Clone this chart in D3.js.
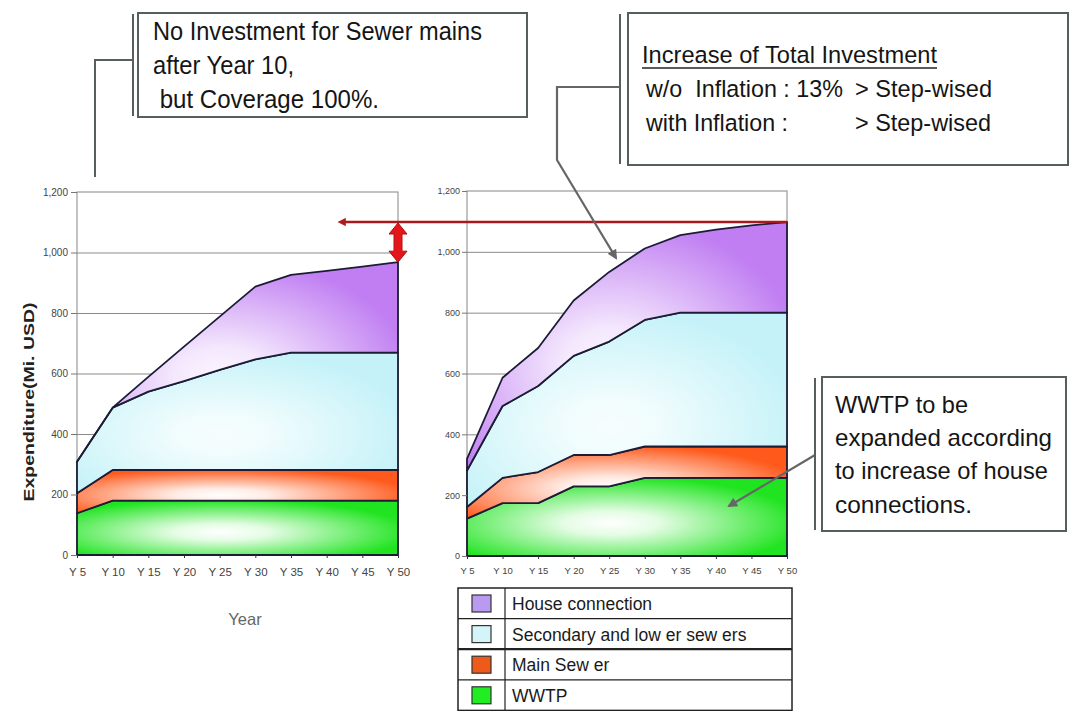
<!DOCTYPE html>
<html>
<head>
<meta charset="utf-8">
<script src="https://cdn.jsdelivr.net/npm/d3@7"></script>
<style>
  html, body { margin: 0; padding: 0; background: #ffffff; }
  svg { display: block; }
  text { font-family: "Liberation Sans", Arial, sans-serif; }
  .narrow { font-family: "Liberation Sans Narrow", "Arial Narrow", "Liberation Sans", Arial, sans-serif; }
</style>
</head>
<body>
<svg id="chart" width="1070" height="711"></svg>
<script>
// ---------------- DATA ----------------
const categories = ["Y 5", "Y 10", "Y 15", "Y 20", "Y 25", "Y 30", "Y 35", "Y 40", "Y 45", "Y 50"];
const seriesKeys = ["WWTP", "Main Sewer", "Secondary and lower sewers", "House connection"];

// Left chart (w/o inflation), Mi. USD per component (stacked)
const leftWWTP      = [138, 180, 180, 180, 180, 180, 180, 180, 180, 180];
const leftMain      = [66, 101, 101, 101, 101, 101, 101, 101, 101, 101];
const leftSecondary = [104, 206, 259, 294, 331, 366, 388, 388, 388, 388];
const leftHouse     = [0, 0, 49, 114, 176, 240, 257, 270, 284, 299];

// Right chart (with inflation), Mi. USD per component (stacked)
const rightWWTP      = [123, 174, 174, 229, 229, 257, 257, 257, 257, 257];
const rightMain      = [38, 83, 102, 103, 103, 103, 103, 103, 103, 103];
const rightSecondary = [120, 236, 283, 326, 373, 416, 440, 440, 440, 440];
const rightHouse     = [38, 93, 125, 182, 229, 235, 255, 273, 287, 298];

const yTicks = [0, 200, 400, 600, 800, 1000, 1200];
const legendLabels = ["House connection", "Secondary and low er sew ers", "Main Sew er", "WWTP"];
const yAxisTitle = "Expenditure(Mi. USD)";
const xAxisTitle = "Year";

const note1Lines = ["No Investment for Sewer mains", "after Year 10,", " but Coverage 100%."];
const note2Title = "Increase of Total Investment";
const note2Left = ["w/o  Inflation : 13%", "with Inflation :"];
const note2Right = ["> Step-wised", "> Step-wised"];
const note3Lines = ["WWTP to be", "expanded according", "to increase of house", "connections."];

// ---------------- STYLE ----------------
const fillColors = ["#1fe41f", "#ff5a1c", "#c4f2f8", "#c07ef2"];
const centerColors = ["#ffffff", "#ffffff", "#f6fdfe", "#fbf6fe"];
const legendColors = ["#b89af0", "#d3f4f8", "#ee5a1a", "#22ec22"];
const outline = "#1c1c36";
const boxStroke = "#56605a";

const svg = d3.select("#chart");
const defs = svg.append("defs");

function rowsFrom(a, b, c, d) {
  return categories.map((cat, i) => ({
    cat: cat,
    [seriesKeys[0]]: a[i],
    [seriesKeys[1]]: b[i],
    [seriesKeys[2]]: c[i],
    [seriesKeys[3]]: d[i]
  }));
}

function makeGradients(prefix) {
  fillColors.forEach((col, i) => {
    const g = defs.append("radialGradient")
      .attr("id", prefix + i)
      .attr("cx", 0.45).attr("cy", 0.58).attr("r", 0.6);
    g.append("stop").attr("offset", "0%").attr("stop-color", centerColors[i]);
    g.append("stop").attr("offset", "25%").attr("stop-color", d3.interpolateRgb(centerColors[i], col)(0.12));
    g.append("stop").attr("offset", "100%").attr("stop-color", col);
  });
}

function drawChart(prefix, rows, x0, x1, y0, y1, opt) {
  makeGradients(prefix);
  const x = d3.scalePoint().domain(categories).range([x0, x1]);
  const y = d3.scaleLinear().domain([0, 1200]).range([y0, y1]);
  const g = svg.append("g");

  // frame
  g.append("rect")
    .attr("x", x0).attr("y", y1).attr("width", x1 - x0).attr("height", y0 - y1)
    .attr("fill", "none").attr("stroke", "#9a9a9a").attr("stroke-width", 1.2);

  // gridlines
  g.append("g")
    .attr("transform", `translate(${x0},0)`)
    .call(d3.axisLeft(y).tickValues(yTicks.slice(1, -1)).tickSize(-(x1 - x0)).tickFormat(""))
    .call(s => s.select(".domain").remove())
    .call(s => s.selectAll("line").attr("stroke", "#8a8a8a").attr("stroke-width", 1));

  // stacked areas
  const stacked = d3.stack().keys(seriesKeys)(rows);
  const area = d3.area()
    .x(d => x(d.data.cat))
    .y0(d => y(d[0]))
    .y1(d => y(d[1]));
  g.selectAll("path.band").data(stacked).join("path")
    .attr("class", "band")
    .attr("d", area)
    .attr("fill", (d, i) => `url(#${prefix}${i})`)
    .attr("stroke", outline)
    .attr("stroke-width", 1.8)
    .attr("stroke-linejoin", "round");

  // y axis
  g.append("g")
    .attr("transform", `translate(${x0},0)`)
    .call(d3.axisLeft(y).tickValues(yTicks).tickSize(opt.ytick).tickPadding(opt.ypad).tickFormat(d3.format(",")))
    .call(s => s.select(".domain").remove())
    .call(s => s.selectAll("line").attr("stroke", "#777"))
    .call(s => s.selectAll("text").attr("fill", "#444").attr("font-size", opt.yfont)
      .attr("font-family", "'Liberation Sans', Arial, sans-serif"));

  // x axis
  g.append("g")
    .attr("transform", `translate(0,${y0})`)
    .call(d3.axisBottom(x).tickSize(3).tickPadding(opt.xpad))
    .call(s => s.select(".domain").remove())
    .call(s => s.selectAll("line").attr("stroke", "#333"))
    .call(s => s.selectAll("text").attr("fill", "#444").attr("font-size", opt.xfont)
      .attr("font-family", "'Liberation Sans', Arial, sans-serif"));

  return { x, y, stacked };
}

const left = drawChart("gl", rowsFrom(leftWWTP, leftMain, leftSecondary, leftHouse),
  77, 398, 555, 192, { ytick: 6, ypad: 3, yfont: 10, xpad: 10, xfont: 11.5 });
const right = drawChart("gr", rowsFrom(rightWWTP, rightMain, rightSecondary, rightHouse),
  467, 787, 556, 191, { ytick: 5, ypad: 2, yfont: 9, xpad: 8, xfont: 9.5 });

// axis titles
svg.append("text")
  .attr("transform", "translate(34,402) rotate(-90)")
  .attr("text-anchor", "middle")
  .attr("font-weight", "bold").attr("font-size", 15.5).attr("fill", "#222")
  .attr("textLength", 199).attr("lengthAdjust", "spacingAndGlyphs")
  .text(yAxisTitle);
svg.append("text")
  .attr("x", 245).attr("y", 625).attr("text-anchor", "middle")
  .attr("font-size", 16.5).attr("fill", "#666")
  .text(xAxisTitle);

// ---------------- comparison arrows ----------------
const lastCat = categories[categories.length - 1];
const lastIdx = categories.length - 1;
const rightTotal = right.stacked[3][lastIdx][1];
const leftTotal = left.stacked[3][lastIdx][1];
const redY = right.y(rightTotal);

defs.append("marker")
  .attr("id", "redHead").attr("viewBox", "0 0 10 10").attr("refX", 1).attr("refY", 5)
  .attr("markerWidth", 4).attr("markerHeight", 3.2).attr("orient", "auto-start-reverse")
  .append("path").attr("d", "M0,0 L10,5 L0,10 Z").attr("fill", "#b01a1a");

svg.append("line")
  .attr("x1", 345).attr("y1", redY).attr("x2", right.x(lastCat)).attr("y2", redY)
  .attr("stroke", "#a8181c").attr("stroke-width", 2.6)
  .attr("marker-start", "url(#redHead)");

// double red arrow
(function () {
  const ax = left.x(lastCat);
  const top = redY + 1, bot = left.y(leftTotal);
  const hw = 9, sw = 4, hh = 11;
  const p = d3.path();
  p.moveTo(ax, top);
  p.lineTo(ax + hw, top + hh);
  p.lineTo(ax + sw, top + hh);
  p.lineTo(ax + sw, bot - hh);
  p.lineTo(ax + hw, bot - hh);
  p.lineTo(ax, bot);
  p.lineTo(ax - hw, bot - hh);
  p.lineTo(ax - sw, bot - hh);
  p.lineTo(ax - sw, top + hh);
  p.lineTo(ax - hw, top + hh);
  p.closePath();
  svg.append("path").attr("d", p.toString())
    .attr("fill", "#e4161a").attr("stroke", "#b01010").attr("stroke-width", 1);
})();

// ---------------- callouts ----------------
defs.append("marker")
  .attr("id", "greyHead").attr("viewBox", "0 0 10 10").attr("refX", 8).attr("refY", 5)
  .attr("markerWidth", 5).attr("markerHeight", 4.5).attr("orient", "auto")
  .append("path").attr("d", "M0,0 L10,5 L0,10 Z").attr("fill", "#666");

function box(x0, y0, x1, y1, barX) {
  svg.append("rect").attr("x", x0).attr("y", y0).attr("width", x1 - x0).attr("height", y1 - y0)
    .attr("fill", "#ffffff").attr("stroke", boxStroke).attr("stroke-width", 2);
  svg.append("line").attr("x1", barX).attr("x2", barX).attr("y1", y0 + 1).attr("y2", y1 - 1)
    .attr("stroke", boxStroke).attr("stroke-width", 2);
}
function ntext(x, y, str, size, len) {
  const t = svg.append("text").attr("class", "narrow").attr("x", x).attr("y", y)
    .attr("font-size", size).attr("fill", "#151515").attr("xml:space", "preserve")
    .style("white-space", "pre").text(str);
  if (len) t.attr("textLength", len).attr("lengthAdjust", "spacingAndGlyphs");
  return t;
}

// note 1
svg.append("polyline").attr("points", "133,60 95,60 95,177")
  .attr("fill", "none").attr("stroke", boxStroke).attr("stroke-width", 2);
box(138, 13, 527, 117, 133);
ntext(153, 40, note1Lines[0], 25, 329);
ntext(153, 74, note1Lines[1], 25, 141);
ntext(153, 108, note1Lines[2], 25, 226);

// note 2
svg.append("polyline").attr("points", "620,87 557,87 557,160 616,258")
  .attr("fill", "none").attr("stroke", "#666").attr("stroke-width", 2.2)
  .attr("marker-end", "url(#greyHead)");
box(628, 13, 1068, 165, 620);
ntext(642, 63, note2Title, 24.5, 295);
svg.append("line").attr("x1", 642).attr("x2", 937).attr("y1", 68).attr("y2", 68)
  .attr("stroke", "#222").attr("stroke-width", 1.3);
ntext(646, 97, note2Left[0], 24.5, 197);
ntext(855, 97, note2Right[0], 24.5, 137);
ntext(646, 131, note2Left[1], 24.5, 142);
ntext(855, 131, note2Right[1], 24.5, 136);

// note 3
svg.append("line").attr("x1", 815).attr("y1", 455).attr("x2", 729).attr("y2", 506)
  .attr("stroke", "#666").attr("stroke-width", 2.2).attr("marker-end", "url(#greyHead)");
box(822, 377, 1066, 531, 815);
ntext(835, 413, note3Lines[0], 24, 133);
ntext(835, 446, note3Lines[1], 24, 217);
ntext(835, 479, note3Lines[2], 24, 213);
ntext(835, 513, note3Lines[3], 24, 137);

// ---------------- legend table ----------------
(function () {
  const lx0 = 458, lx1 = 792, colX = 505, ly0 = 588, rowH = 30.6;
  const lg = svg.append("g");
  legendLabels.forEach((lab, i) => {
    const ry = ly0 + i * rowH;
    lg.append("rect").attr("x", lx0 + 14).attr("y", ry + 7).attr("width", 19).attr("height", 17)
      .attr("fill", legendColors[i]).attr("stroke", "#333").attr("stroke-width", 1.2);
    lg.append("text").attr("x", colX + 7).attr("y", ry + 22).attr("font-size", 17.5)
      .attr("fill", "#1a1a1a").attr("xml:space", "preserve").style("white-space", "pre").text(lab);
  });
  const bottom = ly0 + legendLabels.length * rowH;
  lg.append("rect").attr("x", lx0).attr("y", ly0).attr("width", lx1 - lx0).attr("height", bottom - ly0)
    .attr("fill", "none").attr("stroke", "#222").attr("stroke-width", 1.5);
  lg.append("line").attr("x1", colX).attr("x2", colX).attr("y1", ly0).attr("y2", bottom)
    .attr("stroke", "#222").attr("stroke-width", 1.2);
  d3.range(1, legendLabels.length).forEach(i => {
    lg.append("line").attr("x1", lx0).attr("x2", lx1)
      .attr("y1", ly0 + i * rowH).attr("y2", ly0 + i * rowH)
      .attr("stroke", "#222").attr("stroke-width", i === 2 ? 2.2 : 1.3);
  });
})();
</script>
</body>
</html>
